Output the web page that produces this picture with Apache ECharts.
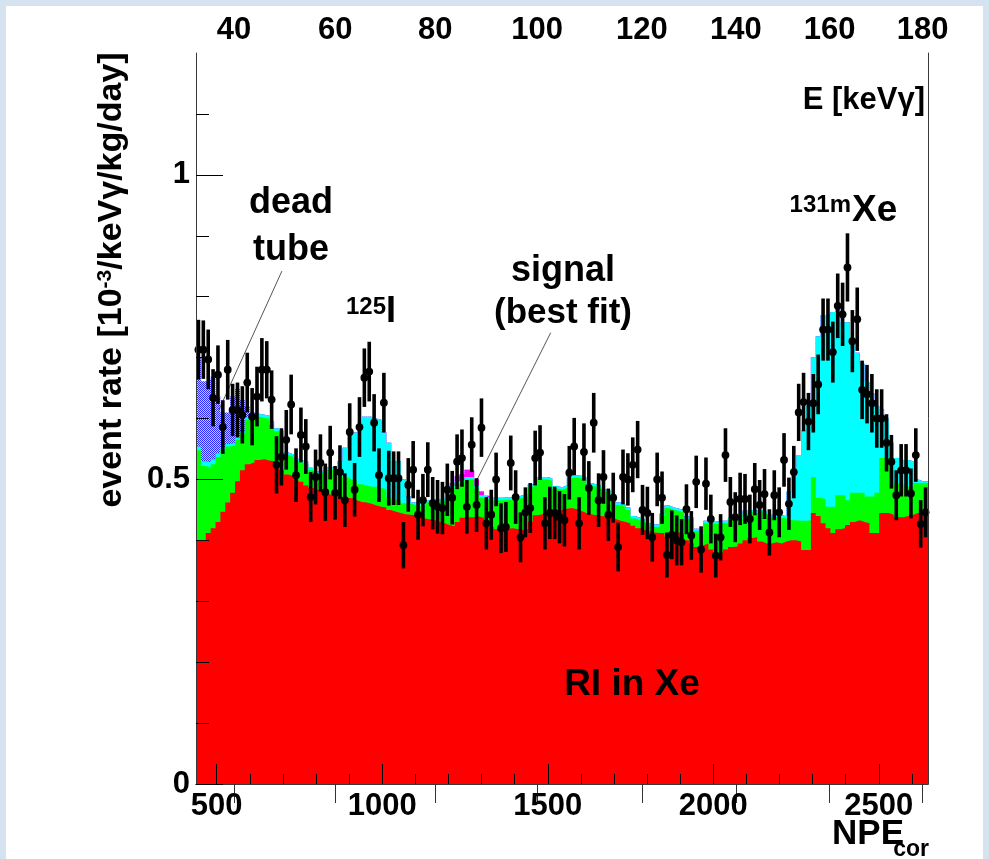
<!DOCTYPE html>
<html>
<head>
<meta charset="utf-8">
<title>event rate vs NPE</title>
<script src="https://cdn.jsdelivr.net/npm/echarts@6/dist/echarts.min.js"></script>
<style>
  html, body { margin: 0; padding: 0; background: #d5e3f1; }
  #sheet { position: absolute; left: 6px; top: 6px; width: 977px; height: 853px; background: #ffffff; }
  #chart { position: absolute; left: 0; top: 0; width: 989px; height: 859px; }
</style>
</head>
<body>
<div id="sheet"></div>
<div id="chart"></div>
<script>
// ---- binning (NPE_cor) ----
const npeRange = [437.5, 2648.5];
const nBins = 150;

// ---- measured spectrum: rate per bin and its error ----
const dataRate = [
  0.713, 0.713, 0.697, 0.634, 0.672, 0.586, 0.680, 0.614, 0.614, 0.606,
  0.659, 0.603, 0.636, 0.680, 0.680, 0.631, 0.524, 0.537, 0.565, 0.623,
  0.507, 0.573, 0.554, 0.471, 0.504, 0.527, 0.479, 0.544, 0.478, 0.512,
  0.466, 0.578, 0.483, 0.586, 0.667, 0.677, 0.593, 0.507, 0.626, 0.502,
  0.502, 0.502, 0.392, 0.491, 0.516, 0.442, 0.466, 0.516, 0.461, 0.455,
  0.453, 0.483, 0.470, 0.529, 0.535, 0.455, 0.557, 0.458, 0.585, 0.428,
  0.442, 0.500, 0.420, 0.422, 0.527, 0.471, 0.405, 0.446, 0.453, 0.535,
  0.544, 0.428, 0.445, 0.445, 0.438, 0.433, 0.511, 0.554, 0.428, 0.545,
  0.486, 0.593, 0.466, 0.504, 0.442, 0.470, 0.389, 0.504, 0.500, 0.524,
  0.549, 0.450, 0.445, 0.405, 0.500, 0.470, 0.376, 0.409, 0.400, 0.397,
  0.451, 0.408, 0.496, 0.385, 0.493, 0.435, 0.375, 0.405, 0.540, 0.463,
  0.438, 0.468, 0.468, 0.435, 0.484, 0.458, 0.476, 0.413, 0.474, 0.446,
  0.532, 0.460, 0.512, 0.610, 0.627, 0.595, 0.625, 0.656, 0.746, 0.746,
  0.709, 0.785, 0.771, 0.848, 0.727, 0.763, 0.647, 0.640, 0.625, 0.600,
  0.600, 0.560, 0.529, 0.474, 0.515, 0.515, 0.477, 0.540, 0.427, 0.446
];
const dataErr = [
  0.049, 0.048, 0.049, 0.047, 0.048, 0.044, 0.049, 0.043, 0.045, 0.047,
  0.049, 0.047, 0.049, 0.052, 0.047, 0.048, 0.047, 0.047, 0.049, 0.049,
  0.044, 0.045, 0.045, 0.041, 0.045, 0.047, 0.047, 0.044, 0.044, 0.044,
  0.044, 0.047, 0.044, 0.049, 0.048, 0.049, 0.047, 0.044, 0.049, 0.045,
  0.044, 0.044, 0.038, 0.044, 0.047, 0.041, 0.043, 0.045, 0.043, 0.044,
  0.043, 0.043, 0.044, 0.045, 0.047, 0.044, 0.045, 0.044, 0.048, 0.043,
  0.041, 0.044, 0.041, 0.041, 0.045, 0.044, 0.041, 0.041, 0.041, 0.045,
  0.045, 0.043, 0.043, 0.043, 0.043, 0.043, 0.044, 0.047, 0.043, 0.047,
  0.044, 0.049, 0.044, 0.044, 0.043, 0.041, 0.040, 0.045, 0.043, 0.045,
  0.047, 0.041, 0.043, 0.040, 0.044, 0.043, 0.037, 0.040, 0.041, 0.038,
  0.041, 0.040, 0.043, 0.038, 0.043, 0.040, 0.036, 0.038, 0.044, 0.041,
  0.041, 0.043, 0.041, 0.040, 0.043, 0.041, 0.041, 0.038, 0.041, 0.041,
  0.044, 0.043, 0.043, 0.047, 0.048, 0.047, 0.048, 0.049, 0.051, 0.051,
  0.050, 0.053, 0.052, 0.056, 0.051, 0.052, 0.048, 0.048, 0.048, 0.048,
  0.048, 0.047, 0.044, 0.041, 0.043, 0.043, 0.041, 0.044, 0.039, 0.041
];

// ---- fitted components, per bin (stacked bottom to top) ----
const riInXe = [
  0.400, 0.400, 0.412, 0.420, 0.430, 0.447, 0.462, 0.478, 0.497, 0.515,
  0.525, 0.528, 0.532, 0.533, 0.531, 0.530, 0.526, 0.516, 0.508, 0.505,
  0.500, 0.496, 0.490, 0.486, 0.483, 0.480, 0.477, 0.474, 0.473, 0.471,
  0.470, 0.469, 0.466, 0.463, 0.462, 0.460, 0.457, 0.455, 0.454, 0.450,
  0.447, 0.445, 0.443, 0.442, 0.441, 0.438, 0.436, 0.434, 0.433, 0.430,
  0.428, 0.425, 0.423, 0.430, 0.437, 0.438, 0.438, 0.439, 0.437, 0.430,
  0.422, 0.418, 0.417, 0.419, 0.420, 0.418, 0.417, 0.418, 0.430, 0.441,
  0.443, 0.445, 0.446, 0.448, 0.450, 0.452, 0.453, 0.451, 0.448, 0.445,
  0.443, 0.441, 0.440, 0.439, 0.438, 0.435, 0.432, 0.430, 0.428, 0.424,
  0.420, 0.417, 0.415, 0.413, 0.412, 0.412, 0.406, 0.405, 0.413, 0.410,
  0.400, 0.395, 0.389, 0.392, 0.395, 0.385, 0.379, 0.380, 0.385, 0.389,
  0.390, 0.395, 0.400, 0.404, 0.405, 0.398, 0.395, 0.395, 0.397, 0.395,
  0.398, 0.400, 0.400, 0.398, 0.384, 0.384, 0.445, 0.440, 0.428, 0.420,
  0.412, 0.418, 0.420, 0.425, 0.430, 0.433, 0.430, 0.428, 0.412, 0.412,
  0.445, 0.445, 0.442, 0.438, 0.438, 0.440, 0.442, 0.445, 0.445, 0.445
];
const otherBg = [
  0.148, 0.122, 0.108, 0.105, 0.107, 0.101, 0.092, 0.078, 0.068, 0.060,
  0.073, 0.073, 0.071, 0.068, 0.069, 0.060, 0.053, 0.059, 0.032, 0.032,
  0.030, 0.031, 0.035, 0.029, 0.027, 0.030, 0.039, 0.042, 0.041, 0.034,
  0.033, 0.031, 0.032, 0.029, 0.028, 0.028, 0.031, 0.031, 0.030, 0.020,
  0.019, 0.020, 0.018, 0.018, 0.017, 0.018, 0.022, 0.028, 0.030, 0.033,
  0.037, 0.055, 0.062, 0.063, 0.058, 0.062, 0.062, 0.046, 0.033, 0.037,
  0.044, 0.048, 0.049, 0.048, 0.046, 0.050, 0.053, 0.054, 0.058, 0.049,
  0.057, 0.055, 0.052, 0.037, 0.033, 0.034, 0.049, 0.052, 0.054, 0.055,
  0.047, 0.047, 0.046, 0.041, 0.039, 0.037, 0.026, 0.025, 0.022, 0.012,
  0.013, 0.013, 0.009, 0.009, 0.010, 0.028, 0.047, 0.045, 0.035, 0.036,
  0.035, 0.038, 0.026, 0.018, 0.033, 0.043, 0.048, 0.048, 0.043, 0.044,
  0.043, 0.040, 0.045, 0.042, 0.040, 0.048, 0.049, 0.043, 0.041, 0.042,
  0.038, 0.033, 0.033, 0.034, 0.048, 0.049, 0.059, 0.030, 0.040, 0.035,
  0.043, 0.056, 0.054, 0.041, 0.048, 0.045, 0.048, 0.044, 0.060, 0.066,
  0.090, 0.090, 0.074, 0.055, 0.055, 0.048, 0.046, 0.049, 0.049, 0.049
];
const activation = [
  0.006, 0.008, 0.008, 0.008, 0.006, 0.004, 0.004, 0.004, 0.004, 0.004,
  0.004, 0.004, 0.005, 0.005, 0.005, 0.005, 0.005, 0.005, 0.004, 0.004,
  0.004, 0.004, 0.004, 0.004, 0.004, 0.004, 0.004, 0.004, 0.004, 0.025,
  0.049, 0.077, 0.079, 0.098, 0.113, 0.115, 0.112, 0.112, 0.093, 0.090,
  0.064, 0.065, 0.039, 0.012, 0.004, 0.004, 0.004, 0.004, 0.004, 0.004,
  0.004, 0.004, 0.004, 0.004, 0.004, 0.004, 0.004, 0.004, 0.004, 0.004,
  0.004, 0.004, 0.004, 0.004, 0.004, 0.004, 0.004, 0.004, 0.004, 0.004,
  0.004, 0.004, 0.004, 0.004, 0.004, 0.004, 0.004, 0.004, 0.004, 0.004,
  0.004, 0.004, 0.004, 0.004, 0.004, 0.004, 0.004, 0.004, 0.004, 0.004,
  0.004, 0.004, 0.004, 0.004, 0.004, 0.004, 0.004, 0.004, 0.004, 0.004,
  0.004, 0.004, 0.004, 0.004, 0.004, 0.004, 0.004, 0.004, 0.004, 0.004,
  0.004, 0.004, 0.004, 0.004, 0.004, 0.004, 0.004, 0.004, 0.004, 0.004,
  0.004, 0.047, 0.077, 0.108, 0.148, 0.187, 0.196, 0.265, 0.302, 0.316,
  0.320, 0.310, 0.284, 0.292, 0.242, 0.230, 0.212, 0.188, 0.170, 0.142,
  0.080, 0.065, 0.044, 0.042, 0.039, 0.044, 0.042, 0.006, 0.003, 0.003
];
const signal = [
  0, 0, 0, 0, 0, 0, 0, 0, 0, 0,  0, 0, 0, 0, 0, 0, 0, 0, 0, 0,
  0, 0, 0, 0, 0, 0, 0, 0, 0, 0,  0, 0, 0, 0, 0, 0, 0, 0, 0, 0,
  0, 0, 0, 0, 0, 0, 0, 0, 0, 0,
  0, 0.004, 0.005, 0.008, 0.010, 0.012, 0.011, 0.011, 0.006, 0.002,
  0, 0, 0, 0, 0, 0, 0, 0, 0, 0,  0, 0, 0, 0, 0, 0, 0, 0, 0, 0,
  0, 0, 0, 0, 0, 0, 0, 0, 0, 0,  0, 0, 0, 0, 0, 0, 0, 0, 0, 0,
  0, 0, 0, 0, 0, 0, 0, 0, 0, 0,  0, 0, 0, 0, 0, 0, 0, 0, 0, 0,
  0, 0, 0, 0, 0, 0, 0, 0, 0, 0,  0, 0, 0, 0, 0, 0, 0, 0, 0, 0,
  0, 0, 0, 0, 0, 0, 0, 0, 0, 0
];
const deadTube = [
  0.145, 0.131, 0.136, 0.136, 0.093, 0.058, 0.052, 0.076, 0.079, 0.051,
  0.018, 0.005, 0, 0, 0, 0, 0, 0, 0, 0,
  0, 0, 0, 0, 0, 0, 0, 0, 0, 0,  0, 0, 0, 0, 0, 0, 0, 0, 0, 0,
  0, 0, 0, 0, 0, 0, 0, 0, 0, 0,  0, 0, 0, 0, 0, 0, 0, 0, 0, 0,
  0, 0, 0, 0, 0, 0, 0, 0, 0, 0,  0, 0, 0, 0, 0, 0, 0, 0, 0, 0,
  0, 0, 0, 0, 0, 0, 0, 0, 0, 0,  0, 0, 0, 0, 0, 0, 0, 0, 0, 0,
  0, 0, 0, 0, 0, 0, 0, 0, 0, 0,  0, 0, 0, 0, 0, 0, 0, 0, 0, 0,
  0, 0, 0, 0, 0, 0, 0, 0, 0, 0,  0, 0, 0, 0, 0, 0, 0, 0, 0, 0,
  0, 0, 0, 0, 0, 0, 0, 0, 0, 0
];

// ---- axis ticks ----
const npeTicks = [500, 1000, 1500, 2000, 2500];
const npeMinorTicks = [600, 700, 800, 900, 1100, 1200, 1300, 1400, 1600, 1700, 1800, 1900, 2100, 2200, 2300, 2400, 2600];
const energyTicks = [40, 60, 80, 100, 120, 140, 160, 180];          // keV
const energyTickNpe = [552, 858, 1160, 1468, 1784, 2068, 2351, 2632]; // where each energy sits on the NPE scale
const rateTicks = [0, 0.5, 1];
const rateMinorTicks = [0.1, 0.2, 0.3, 0.4, 0.6, 0.7, 0.8, 0.9, 1.1];
const rateMax = 1.2;

// ---- annotation pointers, in (NPE, rate) ----
const deadTubePointer = [[697, 0.842], [505, 0.612]];
const signalPointer = [[1509, 0.741], [1286, 0.499]];

// ---------------------------------------------------------------
const FONT = '"Liberation Sans", Arial, Helvetica, sans-serif';
const binWidth = (npeRange[1] - npeRange[0]) / nBins;
const edges = Array.from({ length: nBins + 1 }, (_, i) => npeRange[0] + i * binWidth);
const centers = edges.slice(0, nBins).map(e => e + binWidth / 2);

// histogram outline as step points on the bin edges
function stepData(vals) {
  const d = vals.map((v, i) => [edges[i], v]);
  d.push([edges[nBins], vals[nBins - 1]]);
  return d;
}

// cumulative levels of the stack
const components = [riInXe, otherBg, activation, signal, deadTube];
const levels = [];
let running = new Array(nBins).fill(0);
components.forEach(c => { running = running.map((v, i) => v + c[i]); levels.push(running); });

// fine blue cross-hatch for the dead-tube contribution
function hatch() {
  const c = document.createElement('canvas');
  c.width = 2; c.height = 2;
  const g = c.getContext('2d');
  g.fillStyle = '#c8c8ff'; g.fillRect(0, 0, 2, 2);
  g.fillStyle = '#2a2aff';
  g.fillRect(0, 0, 1, 1);
  g.fillRect(1, 1, 1, 1);
  return c;
}

function layer(name, level, fill) {
  return {
    type: 'line', name, step: 'end', data: stepData(level),
    symbol: 'none', showSymbol: false, silent: true,
    lineStyle: { width: 0, opacity: 0 },
    areaStyle: { color: fill, opacity: 1 },
    xAxisIndex: 0, yAxisIndex: 0
  };
}

const labelFont = { fontFamily: FONT, fontWeight: 'bold', fontSize: 31, color: '#000' };
const frameLine = { show: true, lineStyle: { color: '#3a3a3a', width: 1 } };

const chart = echarts.init(document.getElementById('chart'));
chart.setOption({
  animation: false,
  grid: { left: 196, top: 53, right: 61, bottom: 75, containLabel: false },
  xAxis: [
    {
      type: 'value', position: 'bottom', min: npeRange[0], max: npeRange[1], z: 10,
      axisLine: frameLine,
      axisTick: { show: true, inside: true, length: 20, customValues: npeTicks, lineStyle: { color: '#000' } },
      axisLabel: Object.assign({ customValues: npeTicks, margin: 7, formatter: v => String(v) }, labelFont),
      splitLine: { show: false }
    },
    {
      type: 'value', position: 'bottom', min: npeRange[0], max: npeRange[1], z: 10,
      axisLine: { show: false },
      axisTick: { show: true, inside: true, length: 10, customValues: npeMinorTicks, lineStyle: { color: '#000' } },
      axisLabel: { show: false }, splitLine: { show: false }
    },
    {
      type: 'value', position: 'top', min: npeRange[0], max: npeRange[1], z: 10,
      axisLine: frameLine,
      axisTick: { show: true, inside: true, length: 19, customValues: energyTickNpe, lineStyle: { color: '#333' } },
      axisLabel: Object.assign({
        customValues: energyTickNpe, margin: 7,
        formatter: v => String(energyTicks[energyTickNpe.indexOf(v)])
      }, labelFont),
      splitLine: { show: false }
    }
  ],
  yAxis: [
    {
      type: 'value', position: 'left', min: 0, max: rateMax, z: 10,
      axisLine: frameLine,
      axisTick: { show: true, inside: true, length: 27, customValues: rateTicks, lineStyle: { color: '#000' } },
      axisLabel: Object.assign({ customValues: rateTicks, margin: 6, formatter: v => String(v) }, labelFont),
      splitLine: { show: false }
    },
    {
      type: 'value', position: 'left', min: 0, max: rateMax, z: 10,
      axisLine: { show: false },
      axisTick: { show: true, inside: true, length: 13, customValues: rateMinorTicks, lineStyle: { color: '#000' } },
      axisLabel: { show: false }, splitLine: { show: false }
    },
    {
      type: 'value', position: 'right', min: 0, max: rateMax, z: 10,
      axisLine: frameLine, axisTick: { show: false }, axisLabel: { show: false }, splitLine: { show: false }
    }
  ],
  series: [
    // dead-tube histogram outline on its own scale (only shows where it lies on the baseline)
    {
      type: 'line', step: 'end', data: stepData(deadTube), symbol: 'none', silent: true, clip: false,
      lineStyle: { color: '#1010e0', width: 2 }, z: 1
    },
    layer('dead tube', levels[4], { image: hatch(), repeat: 'repeat' }),
    layer('signal (best fit)', levels[3], '#ff00ff'),
    layer('125I / 131mXe', levels[2], '#00ffff'),
    layer('other', levels[1], '#00ff00'),
    layer('RI in Xe', levels[0], '#ff0000'),
    {
      type: 'line', data: [], silent: true,
      markLine: {
        silent: true, symbol: 'none', animation: false,
        label: { show: false },
        lineStyle: { color: '#555', width: 1, type: 'solid' },
        data: [
          [{ coord: deadTubePointer[0] }, { coord: deadTubePointer[1] }],
          [{ coord: signalPointer[0] }, { coord: signalPointer[1] }]
        ]
      }
    },
    {
      type: 'custom', name: 'data', xAxisIndex: 0, yAxisIndex: 0, z: 5, silent: true,
      data: centers.map((c, i) => [c, dataRate[i], dataErr[i]]),
      renderItem(params, api) {
        const x = api.value(0), y = api.value(1), e = api.value(2);
        const p = api.coord([x, y]);
        const hi = api.coord([x, y + e]);
        const lo = api.coord([x, y - e]);
        return {
          type: 'group',
          children: [
            { type: 'line', shape: { x1: hi[0], y1: hi[1], x2: lo[0], y2: lo[1] }, style: { stroke: '#000', lineWidth: 3.6 } },
            { type: 'circle', shape: { cx: p[0], cy: p[1], r: 3.9 }, style: { fill: '#000' } }
          ]
        };
      }
    }
  ],
  graphic: [
    { type: 'text', x: 112, y: 280, rotation: Math.PI / 2, z: 20,
      style: {
        text: 'event rate [10{sup|-3}/keVγ/kg/day]',
        fontFamily: FONT, fontWeight: 'bold', fontSize: 34, fill: '#000',
        align: 'center', verticalAlign: 'middle',
        rich: { sup: { fontFamily: FONT, fontWeight: 'bold', fontSize: 21, verticalAlign: 'top', fill: '#000' } }
      } },
    { type: 'text', x: 925, y: 100, z: 20,
      style: { text: 'E [keVγ]', fontFamily: FONT, fontWeight: 'bold', fontSize: 31, fill: '#000', align: 'right', verticalAlign: 'middle' } },
    { type: 'text', x: 904, y: 834, z: 20,
      style: { text: 'NPE', fontFamily: FONT, fontWeight: 'bold', fontSize: 35, fill: '#000', align: 'right', verticalAlign: 'middle' } },
    { type: 'text', x: 929, y: 850, z: 20,
      style: { text: 'cor', fontFamily: FONT, fontWeight: 'bold', fontSize: 23, fill: '#000', align: 'right', verticalAlign: 'middle' } },
    { type: 'text', x: 291, y: 227, z: 20,
      style: { text: 'dead\ntube', fontFamily: FONT, fontWeight: 'bold', fontSize: 36, lineHeight: 47, fill: '#000', align: 'center', verticalAlign: 'middle' } },
    { type: 'text', x: 346, y: 307, z: 20,
      style: { text: '125', fontFamily: FONT, fontWeight: 'bold', fontSize: 24, fill: '#000', align: 'left', verticalAlign: 'middle' } },
    { type: 'text', x: 386, y: 312, z: 20,
      style: { text: 'I', fontFamily: FONT, fontWeight: 'bold', fontSize: 36, fill: '#000', align: 'left', verticalAlign: 'middle' } },
    { type: 'text', x: 563, y: 271, z: 20,
      style: { text: 'signal', fontFamily: FONT, fontWeight: 'bold', fontSize: 36, fill: '#000', align: 'center', verticalAlign: 'middle' } },
    { type: 'text', x: 563, y: 313, z: 20,
      style: { text: '(best fit)', fontFamily: FONT, fontWeight: 'bold', fontSize: 35, fill: '#000', align: 'center', verticalAlign: 'middle' } },
    { type: 'text', x: 851, y: 205, z: 20,
      style: { text: '131m', fontFamily: FONT, fontWeight: 'bold', fontSize: 24, fill: '#000', align: 'right', verticalAlign: 'middle' } },
    { type: 'text', x: 852, y: 211, z: 20,
      style: { text: 'Xe', fontFamily: FONT, fontWeight: 'bold', fontSize: 37, fill: '#000', align: 'left', verticalAlign: 'middle' } },
    { type: 'text', x: 632, y: 685, z: 20,
      style: { text: 'RI in Xe', fontFamily: FONT, fontWeight: 'bold', fontSize: 37, fill: '#000', align: 'center', verticalAlign: 'middle' } }
  ]
});
</script>
</body>
</html>
